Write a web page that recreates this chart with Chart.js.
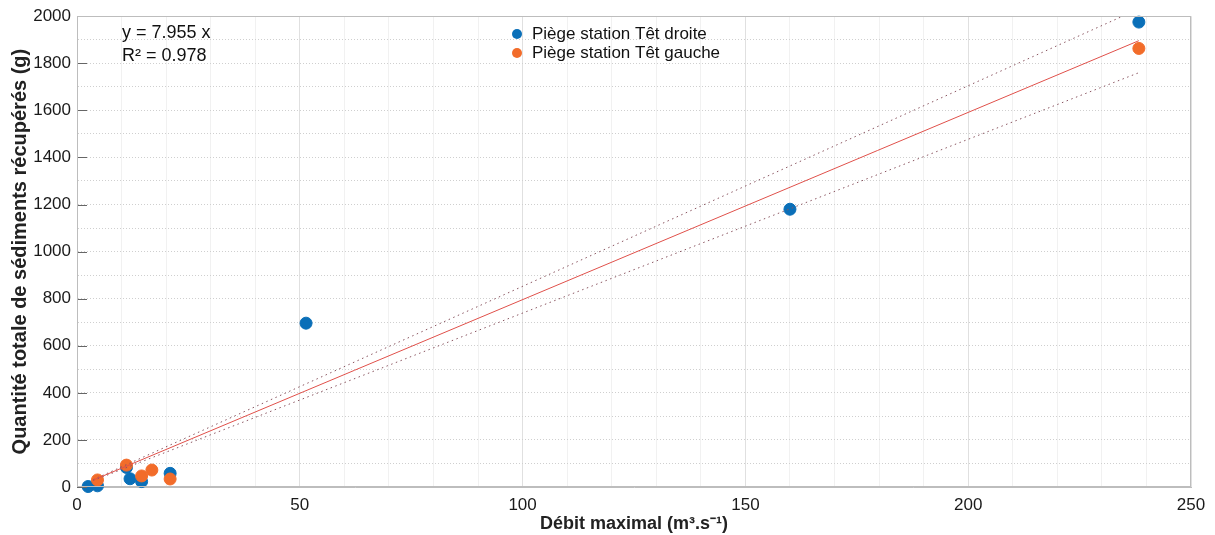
<!DOCTYPE html>
<html>
<head>
<meta charset="utf-8">
<script src="https://cdn.jsdelivr.net/npm/chart.js@4.4.0/dist/chart.umd.min.js"></script>
<style>
  html, body { margin: 0; padding: 0; background: #fff; }
  #wrap { width: 1215px; height: 535px; }
</style>
</head>
<body>
<div id="wrap"><canvas id="chart" width="1215" height="535"></canvas></div>
<script>
// data
const droiteX = [2.5, 4.6, 11.1, 11.9, 14.5, 20.9, 51.4, 160, 238.3];
const droiteY = [2, 5, 83, 35, 23, 58, 696, 1180, 1975];
const gaucheX = [4.6, 11.1, 14.5, 16.8, 20.9, 238.3];
const gaucheY = [30, 93, 47, 72, 34, 1863];

// regression y = 7.955 x and its bounds (end points)
const fitX = [3.6, 238.3];
const fitY = [29, 1896];
const upperY = [31, 2031];
const lowerY = [27, 1760];

const labels = ['Piège station Têt droite', 'Piège station Têt gauche'];
const colors = ['#0a6fb8', '#f26c2a'];
const equation = ['y = 7.955 x', 'R² = 0.978'];

const font = "'Liberation Sans', Arial, sans-serif";

function pts(xs, ys) {
    return xs.map((x, i) => ({ x: x, y: ys[i] }));
}

// legend, equation text and inner tick marks
const extras = {
    id: 'extras',
    afterDatasetsDraw(chart) {
        const ctx = chart.ctx;
        const ys = chart.scales.y;
        const area = chart.chartArea;
        ctx.save();
        ctx.strokeStyle = '#666';
        ctx.lineWidth = 1;
        ys.ticks.forEach(t => {
            if (t.value % 200 !== 0) return;
            const py = Math.round(ys.getPixelForValue(t.value)) + 0.5;
            ctx.beginPath();
            ctx.moveTo(area.left, py);
            ctx.lineTo(area.left + 10, py);
            ctx.stroke();
        });

        ctx.font = '18px ' + font;
        ctx.fillStyle = '#111';
        ctx.textBaseline = 'middle';
        ctx.textAlign = 'left';
        ctx.fillText(equation[0], 122, 33);
        ctx.fillText(equation[1], 122, 56);

        labels.forEach((lab, i) => {
            const cy = 34 + i * 19;
            ctx.fillStyle = colors[i];
            ctx.beginPath();
            ctx.arc(517, cy, 5, 0, Math.PI * 2);
            ctx.fill();
            ctx.fillStyle = '#111';
            ctx.font = '17px ' + font;
            ctx.fillText(lab, 532, cy);
        });
        ctx.restore();
    }
};

new Chart(document.getElementById('chart'), {
    type: 'scatter',
    data: {
        datasets: [
            {
                label: labels[0],
                data: pts(droiteX, droiteY),
                backgroundColor: colors[0],
                borderColor: colors[0],
                pointRadius: 6,
                clip: false,
                order: 3
            },
            {
                label: labels[1],
                data: pts(gaucheX, gaucheY),
                backgroundColor: colors[1],
                borderColor: colors[1],
                pointRadius: 6,
                clip: false,
                order: 2
            },
            {
                type: 'line',
                data: pts(fitX, fitY),
                borderColor: '#e0504a',
                borderWidth: 1,
                pointRadius: 0,
                order: 1
            },
            {
                type: 'line',
                data: pts(fitX, upperY),
                borderColor: '#8a5560',
                borderWidth: 1,
                borderDash: [1.5, 3.5],
                pointRadius: 0,
                order: 1
            },
            {
                type: 'line',
                data: pts(fitX, lowerY),
                borderColor: '#8a5560',
                borderWidth: 1,
                borderDash: [1.5, 3.5],
                pointRadius: 0,
                order: 1
            }
        ]
    },
    options: {
        responsive: false,
        animation: false,
        layout: { padding: { top: 16, right: 24, left: 0, bottom: 0 } },
        plugins: {
            legend: { display: false },
            tooltip: { enabled: false }
        },
        scales: {
            x: {
                type: 'linear',
                min: 0, max: 250,
                ticks: {
                    stepSize: 10,
                    autoSkip: false,
                    maxRotation: 0,
                    color: '#1a1a1a',
                    font: { family: font, size: 17 },
                    padding: 8,
                    callback: v => v % 50 === 0 ? v : ''
                },
                grid: {
                    drawTicks: false,
                    color: c => c.tick.value % 50 === 0 ? '#e0e0e0' : '#f1f1f1',
                    lineWidth: 1
                },
                border: { color: '#bdbdbd' },
                title: {
                    display: true,
                    text: 'Débit maximal (m³.s⁻¹)',
                    color: '#222',
                    font: { family: font, size: 18, weight: 'bold' },
                    padding: { top: -4, bottom: 0 }
                },
                afterFit: s => { s.height = 48; }
            },
            y: {
                type: 'linear',
                min: 0, max: 2000,
                ticks: {
                    stepSize: 100,
                    autoSkip: false,
                    color: '#1a1a1a',
                    font: { family: font, size: 17 },
                    padding: 6,
                    callback: v => v % 200 === 0 ? v : ''
                },
                grid: {
                    drawTicks: false,
                    color: '#cfcfcf',
                    lineWidth: 1
                },
                border: { color: '#bdbdbd', dash: [1, 2] },
                title: {
                    display: true,
                    text: 'Quantité totale de sédiments récupérés (g)',
                    color: '#222',
                    font: { family: font, size: 20, weight: 'bold' },
                    padding: { top: 8, bottom: 0 }
                },
                afterFit: s => { s.width = 77; }
            }
        }
    },
    plugins: [extras, {
        id: 'frame',
        afterDraw(chart) {
            const a = chart.chartArea, ctx = chart.ctx;
            ctx.save();
            ctx.strokeStyle = '#bdbdbd';
            ctx.lineWidth = 1;
            ctx.strokeRect(Math.round(a.left) + 0.5, Math.round(a.top) + 0.5,
                Math.round(a.right - a.left) - 1, Math.round(a.bottom - a.top) - 1);
            ctx.restore();
        }
    }]
});
</script>
</body>
</html>
